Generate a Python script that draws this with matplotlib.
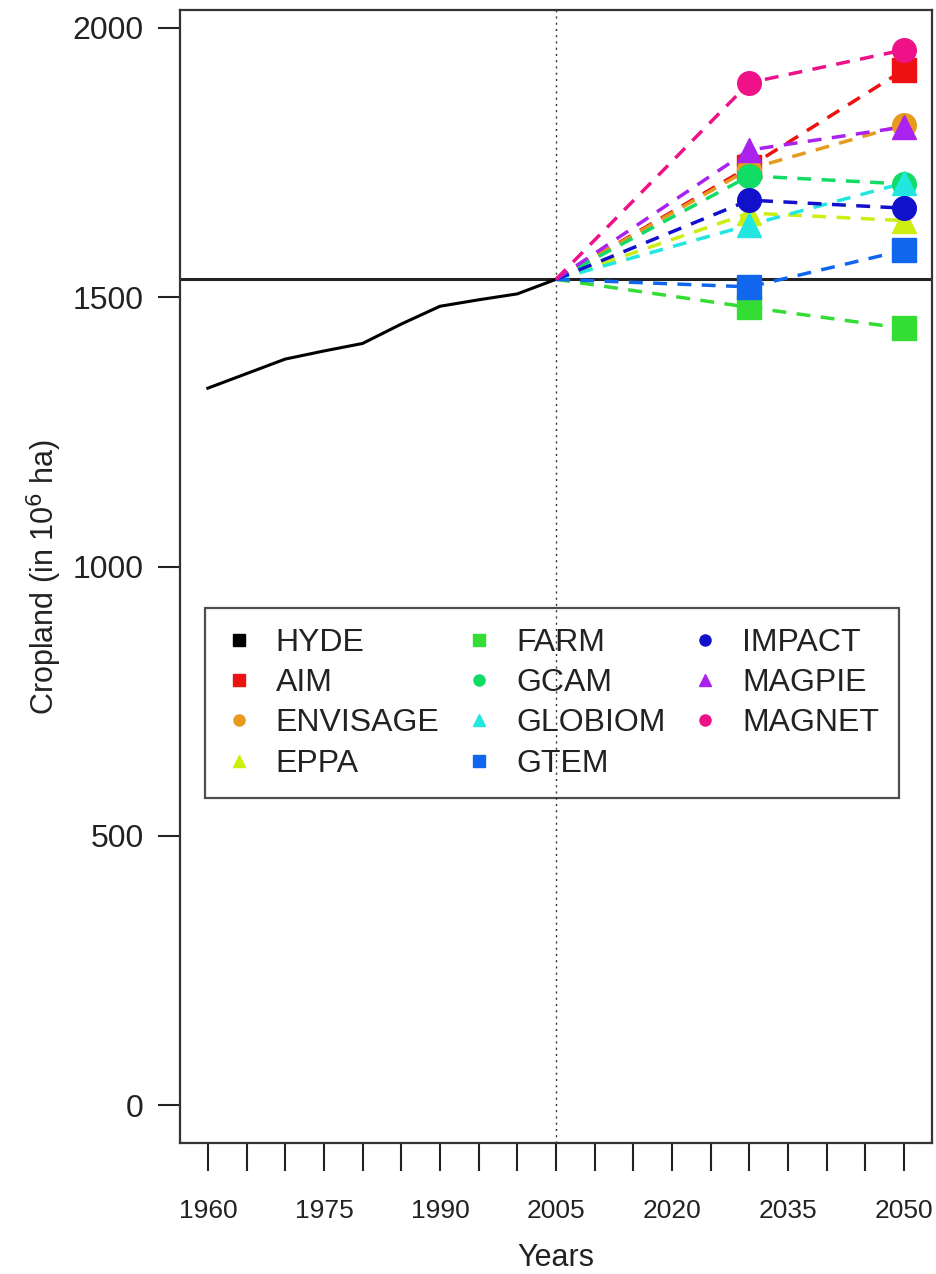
import matplotlib
matplotlib.use("Agg")
import matplotlib.pyplot as plt
from matplotlib.lines import Line2D

plt.rcParams['font.family'] = ['Liberation Sans', 'DejaVu Sans']

# historical cropland (HYDE)
hyde_years = [1960, 1965, 1970, 1975, 1980, 1985, 1990, 1995, 2000, 2005]
hyde_values = [1331, 1358, 1385, 1400, 1414, 1450, 1483, 1495, 1506, 1533]

# scenario projections: value at 2005 (shared start), 2030, 2050
proj_years = [2005, 2030, 2050]
models = ["AIM", "ENVISAGE", "EPPA", "FARM", "GCAM", "GLOBIOM",
          "GTEM", "IMPACT", "MAGPIE", "MAGNET"]
aim = [1533, 1742, 1922]
envisage = [1533, 1738, 1820]
eppa = [1533, 1656, 1642]
farm = [1533, 1481, 1442]
gcam = [1533, 1725, 1710]
globiom = [1533, 1634, 1712]
gtem = [1533, 1519, 1587]
impact = [1533, 1680, 1665]
magpie = [1533, 1773, 1816]
magnet = [1533, 1898, 1959]
proj_values = [aim, envisage, eppa, farm, gcam, globiom, gtem, impact, magpie, magnet]

colors = ["#EE1111", "#E69A1E", "#CCEE11", "#33DD33", "#11DD66", "#22E6E0",
          "#1166EE", "#1111CC", "#AA22EE", "#EE1188"]
markers = ["s", "o", "^", "s", "o", "^", "s", "o", "^", "o"]

base_year = 2005
base_value = 1533

fig = plt.figure(figsize=(9.36, 12.74), dpi=100)
ax = fig.add_axes([0.1923, 0.1028, 0.8034, 0.8894])

ax.plot(hyde_years, hyde_values, color="black", lw=2.2, zorder=3)
ax.axhline(base_value, color="#222222", lw=2.2, zorder=2)
ax.axvline(base_year, color="#333333", lw=1.0, ls=(0, (1.5, 3)), zorder=1)

for vals, c, m in zip(proj_values, colors, markers):
    ax.plot(proj_years, vals, color=c, lw=2.5, ls=(0, (4, 3)), zorder=4)
    ax.plot(proj_years[1:], vals[1:], ls="none", marker=m, ms=17,
            color=c, mec=c, zorder=5)

ax.set_xlim(1956.4, 2053.6)
ax.set_ylim(-70, 2033)

ax.set_xticks(range(1960, 2051, 5))
ax.set_xticklabels([str(y) if (y - 1960) % 15 == 0 else "" for y in range(1960, 2051, 5)])
ax.set_yticks([0, 500, 1000, 1500, 2000])
ax.tick_params(axis="x", length=20, width=1.5, pad=20, labelsize=19, colors="#222222")
ax.tick_params(axis="y", length=16, width=1.5, pad=10, labelsize=23, colors="#222222")
for s in ax.spines.values():
    s.set_linewidth(1.6)
    s.set_color("#333333")

ax.set_xlabel("Years", fontsize=22, color="#222222", labelpad=15)
ax.set_ylabel("Cropland (in 10$^6$ ha)", fontsize=22, color="#222222", labelpad=6)

handles = [Line2D([], [], ls="none", marker="s", ms=8, color="black")]
labels = ["HYDE"]
for name, c, m in zip(models, colors, markers):
    handles.append(Line2D([], [], ls="none", marker=m, ms=8, color=c))
    labels.append(name)

leg = ax.legend(handles, labels, ncol=3, loc="upper left",
                bbox_to_anchor=(0.033, 0.472), borderaxespad=0, fontsize=23,
                frameon=True, fancybox=False, facecolor="none",
                edgecolor="#222222", handlelength=0.9, handletextpad=0.7,
                columnspacing=0.8, labelspacing=0.32, borderpad=0.62)
leg.get_frame().set_linewidth(1.6)
for t in leg.get_texts():
    t.set_color("#222222")

fig.savefig("out.png", dpi=100)
